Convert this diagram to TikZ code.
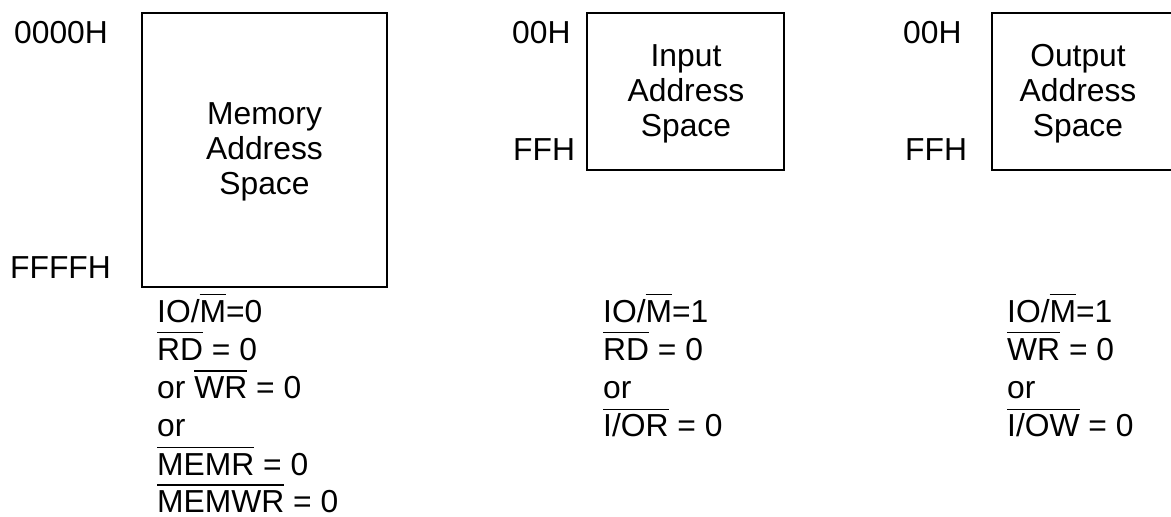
\documentclass[tikz,border=0pt]{standalone}
\usepackage{fontspec}
\setmainfont{Liberation Sans}
\newsavebox\obbox
\newcommand\ob[1]{\sbox\obbox{#1}\rlap{\rule[27pt]{\wd\obbox}{1.3pt}}\usebox\obbox}
\tikzset{
  lbl/.style={anchor=base west, inner sep=0pt, font=\fontsize{31.8}{38}\selectfont},
  ctr/.style={anchor=base, inner sep=0pt, font=\fontsize{31.8}{38}\selectfont},
  spacebox/.style={draw, line width=2pt}
}
\begin{document}
\begin{tikzpicture}[x=1pt,y=-1pt]
\useasboundingbox (0,0) rectangle (1171,517);
\clip (0,0) rectangle (1171,517);
% boxes
\draw[spacebox] (142,13) rectangle (387,287);
\draw[spacebox] (587,13) rectangle (784,170);
\draw[spacebox] (992,13) rectangle (1190,170);
% memory
\node[lbl] (m0) at (14,43) {0000H};
\node[lbl] (m1) at (10,278) {FFFFH};
\node[ctr] (mt1) at (264.5,124) {Memory};
\node[ctr] (mt2) at (264.5,159) {Address};
\node[ctr] (mt3) at (264.5,194) {Space};
% input
\node[lbl] (i0) at (512,43) {00H};
\node[lbl] (i1) at (513,160) {FFH};
\node[ctr] (it1) at (686,66) {Input};
\node[ctr] (it2) at (686,101) {Address};
\node[ctr] (it3) at (686,136) {Space};
% output
\node[lbl] (o0) at (903,43) {00H};
\node[lbl] (o1) at (905,160) {FFH};
\node[ctr] (ot1) at (1078,66) {Output};
\node[ctr] (ot2) at (1078,101) {Address};
\node[ctr] (ot3) at (1078,136) {Space};
% conditions memory
\node[lbl] (mc1) at (157,322) {IO/\ob{M}=0};
\node[lbl] (mc2) at (157,360.3) {\ob{RD} = 0};
\node[lbl] (mc3) at (157,398.6) {or \ob{WR} = 0};
\node[lbl] (mc4) at (157,436.9) {or};
\node[lbl] (mc5) at (157,475) {\ob{MEMR} = 0};
\node[lbl] (mc6) at (157,512.5) {\ob{MEMWR} = 0};
% conditions input
\node[lbl] (ic1) at (603,322) {IO/\ob{M}=1};
\node[lbl] (ic2) at (603,360.3) {\ob{RD} = 0};
\node[lbl] (ic3) at (603,398.6) {or};
\node[lbl] (ic4) at (603,436.9) {\ob{I/OR} = 0};
% conditions output
\node[lbl] (oc1) at (1007,322) {IO/\ob{M}=1};
\node[lbl] (oc2) at (1007,360.3) {\ob{WR} = 0};
\node[lbl] (oc3) at (1007,398.6) {or};
\node[lbl] (oc4) at (1007,436.9) {\ob{I/OW} = 0};
\end{tikzpicture}
\end{document}
